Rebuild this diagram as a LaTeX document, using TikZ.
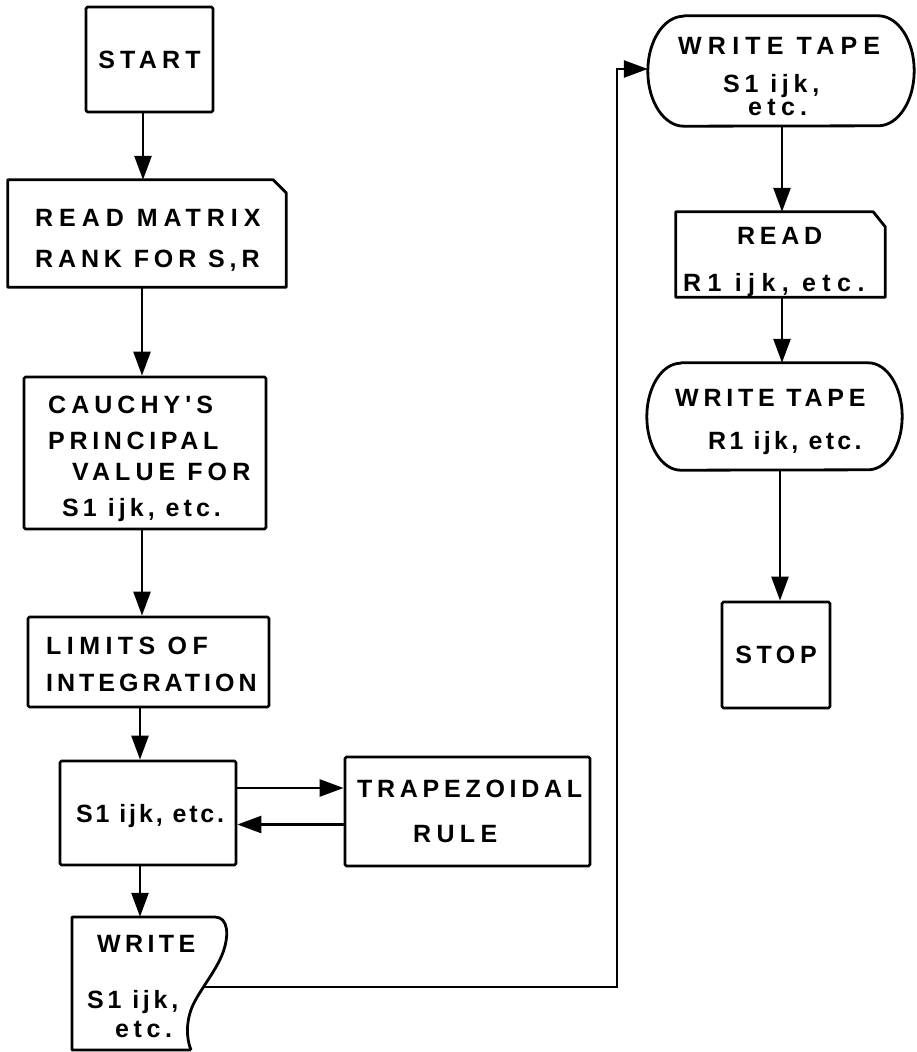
\documentclass[tikz,border=0pt]{standalone}
\usepackage{fontspec}
\setmainfont{Liberation Sans}
\newfontfamily\tfont{Liberation Sans}
\usetikzlibrary{arrows.meta,calc}
\newcommand\lsfont[1]{\tfont\bfseries\fontsize{25}{29}\selectfont\addfontfeature{LetterSpace=#1}}
\tikzset{
  shp/.style={draw, line width=2.8pt, line join=round},
  box/.style={shp, inner sep=0pt, rounded corners=1.5pt},
  ghost/.style={inner sep=0pt},
  tx/.style={anchor=base west, inner sep=0pt, font=\lsfont{#1}},
  arr/.style={line width=2.6pt, -{Triangle[length=24pt,width=17pt]}},
}
\begin{document}
\begin{tikzpicture}[x=1pt,y=-1pt]
\useasboundingbox (0,0) rectangle (917,1052);

% ---------- left column ----------
\node[box, minimum width=127pt, minimum height=105pt, font=\lsfont{20.7}] (start) at (149.5,59.5) {START};

\node[ghost, minimum width=278pt, minimum height=107pt] (read) at (147,233.5) {};
\draw[shp] (read.south west) -- (read.north west) -- ($(read.north east)+(-13,0)$)
  -- ($(read.north east)+(0,13)$) -- (read.south east) -- cycle;
\node[tx=23.8] (t1) at (35,226) {READ MATRIX};
\node[tx=19.5] (t2) at (35,267) {RANK FOR S,R};

\node[box, minimum width=242pt, minimum height=152pt] (cauchy) at (145,453) {};
\node[tx=20.2] (t3) at (48,413) {CAUCHY'S};
\node[tx=18.7] (t4) at (48,449) {PRINCIPAL};
\node[tx=20.3] (t5) at (72,480) {VALUE FOR};
\node[tx=16.2] (t6) at (62,516) {S1 ijk, etc.};

\node[box, minimum width=241pt, minimum height=90pt] (limits) at (148.5,662) {};
\node[tx=21.7] (t7) at (46,654) {LIMITS OF};
\node[tx=16] (t8) at (46,691) {INTEGRATION};

\node[box, minimum width=176pt, minimum height=104pt] (sone) at (148,813) {};
\node[tx=11.4] (t9) at (76,822) {S1 ijk, etc.};

\node[box, minimum width=245pt, minimum height=109pt] (trap) at (467.5,811.5) {};
\node[tx=18.9] (t10) at (357,797) {TRAPEZOIDAL};
\node[tx=21.3] (t11) at (413,842) {RULE};

\node[ghost, minimum width=155pt, minimum height=133pt] (wdoc) at (149.5,983.5) {};
\draw[shp] (191,1050) -- (72,1050) -- (72,917) -- (215,917)
  .. controls (228,917) and (230,935) .. (222,955)
  .. controls (215,972) and (200,990) .. (193,1005)
  .. controls (186,1020) and (186,1038) .. (191,1050);
\coordinate (wout) at (204,987);
\node[tx=17.5] (t12) at (97,952) {WRITE};
\node[tx=15.1] (t13) at (87,1008) {S1 ijk,};
\node[tx=18.5] (t14) at (115,1037) {etc.};

% ---------- right column ----------
\node[ghost, minimum width=266pt, minimum height=110pt] (wtone) at (781,71) {};
\draw[shp] ($(wtone.north west)+(36,0)$) -- ($(wtone.north east)+(-36,0)$)
  arc[start angle=90, end angle=-90, x radius=36pt, y radius=55pt]
  -- ($(wtone.south west)+(36,0)$)
  arc[start angle=270, end angle=90, x radius=36pt, y radius=55pt] -- cycle;
\node[tx=24.8] (t15) at (678,54) {WRITE TAPE};
\node[tx=19.1] (t16) at (723,92) {S1 ijk,};
\node[tx=21.2] (t17) at (748,115) {etc.};

\node[ghost, minimum width=209pt, minimum height=85pt] (readr) at (780.5,254.5) {};
\draw[shp] (readr.south west) -- (readr.north west) -- ($(readr.north east)+(-12,0)$)
  -- ($(readr.north east)+(0,15)$) -- (readr.south east) -- cycle;
\node[tx=18.9] (t18) at (737,244) {READ};
\node[tx=25.6] (t19) at (683,291) {R1 ijk, etc.};

\node[ghost, minimum width=255pt, minimum height=107pt] (wttwo) at (774.5,416.5) {};
\draw[shp] ($(wttwo.north west)+(34,0)$) -- ($(wttwo.north east)+(-34,0)$)
  arc[start angle=90, end angle=-90, x radius=34pt, y radius=53.5pt]
  -- ($(wttwo.south west)+(34,0)$)
  arc[start angle=270, end angle=90, x radius=34pt, y radius=53.5pt] -- cycle;
\node[tx=19] (t20) at (675,406) {WRITE TAPE};
\node[tx=13.2] (t21) at (708,449) {R1 ijk, etc.};

\node[box, minimum width=108pt, minimum height=106pt, font=\lsfont{18.5}] (stop) at (776,655) {STOP};

% ---------- connectors ----------
\draw[arr] ([xshift=-6.5pt]start.south) -- ([xshift=-6.5pt]start.south |- read.north);
\draw[arr] ([xshift=-5pt]read.south) -- ([xshift=-5pt]read.south |- cauchy.north);
\draw[arr] ([xshift=-3pt]cauchy.south) -- ([xshift=-3pt]cauchy.south |- limits.north);
\draw[arr] ([xshift=-8.5pt]limits.south) -- ([xshift=-8.5pt]limits.south |- sone.north);
\draw[arr] ([yshift=25pt]sone.east) -- ([yshift=25pt]sone.east -| trap.west);
\draw[arr] ([yshift=-13pt]trap.west) -- ([yshift=-13pt]trap.west -| sone.east);
\draw[arr] ([xshift=-8pt]sone.south) -- ([xshift=-8pt]sone.south |- wdoc.north);
\coordinate (bend) at (617,69);
\draw[arr] (wout) -| (bend) -- (bend -| wtone.west);
\draw[arr] ([xshift=1pt]wtone.south) -- ([xshift=1pt]wtone.south |- readr.north);
\draw[arr] ([xshift=1.5pt]readr.south) -- ([xshift=1.5pt]readr.south |- wttwo.north);
\draw[arr] ([xshift=5.5pt]wttwo.south) -- ([xshift=5.5pt]wttwo.south |- stop.north);
\end{tikzpicture}
\end{document}
